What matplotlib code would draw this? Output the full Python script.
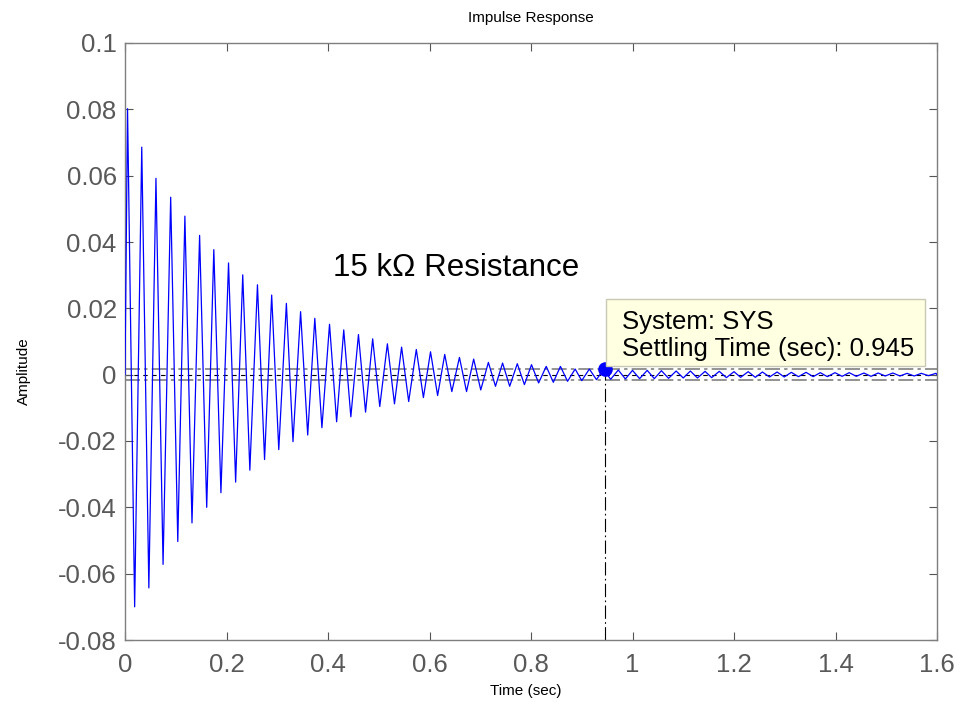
import matplotlib
matplotlib.use("Agg")
import matplotlib.pyplot as plt
from matplotlib.patches import Rectangle
import numpy as np

# ---- data ----
peak_t = [0.005, 0.033, 0.061, 0.090, 0.118, 0.147, 0.175, 0.204, 0.232, 0.261,
          0.289, 0.318, 0.346, 0.374, 0.403, 0.431, 0.460, 0.488, 0.517, 0.545,
          0.574, 0.602, 0.630, 0.659, 0.687, 0.716, 0.744, 0.773, 0.801, 0.830,
          0.858, 0.887, 0.915, 0.943, 0.972, 1.000, 1.029, 1.057, 1.086, 1.114,
          1.143, 1.171, 1.200, 1.228, 1.256, 1.285, 1.313, 1.342, 1.370, 1.399,
          1.427, 1.456, 1.484, 1.513, 1.541, 1.569, 1.598]
peak_v = [0.0802, 0.0686, 0.0592, 0.0535, 0.0478, 0.0420, 0.0377, 0.0337, 0.0301, 0.0271,
          0.0240, 0.0215, 0.0190, 0.0170, 0.0152, 0.0135, 0.0121, 0.0108, 0.0093, 0.0083,
          0.0076, 0.0069, 0.0061, 0.0052, 0.0047, 0.0037, 0.0035, 0.0033, 0.0030, 0.0025,
          0.0025, 0.0017, 0.0017, 0.0016, 0.0014, 0.0013, 0.0013, 0.0012, 0.0011, 0.0011,
          0.0010, 0.0010, 0.0009, 0.0009, 0.0008, 0.0008, 0.0007, 0.0007, 0.0006, 0.0006,
          0.0006, 0.0005, 0.0005, 0.0005, 0.0004, 0.0004, 0.0004]
trough_t = [0.019, 0.047, 0.075, 0.104, 0.132, 0.161, 0.189, 0.218, 0.246, 0.275,
            0.303, 0.331, 0.360, 0.388, 0.417, 0.445, 0.474, 0.502, 0.531, 0.559,
            0.588, 0.616, 0.644, 0.673, 0.701, 0.730, 0.758, 0.787, 0.815, 0.844,
            0.872, 0.900, 0.929, 0.957, 0.986, 1.014, 1.043, 1.071, 1.100, 1.128,
            1.156, 1.185, 1.213, 1.242, 1.270, 1.299, 1.327, 1.356, 1.384, 1.413,
            1.441, 1.470, 1.498, 1.527, 1.555, 1.583]
trough_v = [-0.0700, -0.0643, -0.0572, -0.0503, -0.0447, -0.0400, -0.0356, -0.0324, -0.0288, -0.0256,
            -0.0226, -0.0202, -0.0182, -0.0160, -0.0142, -0.0127, -0.0113, -0.0096, -0.0088, -0.0081,
            -0.0069, -0.0063, -0.0051, -0.0051, -0.0046, -0.0035, -0.0035, -0.0030, -0.0025, -0.0023,
            -0.0020, -0.0018, -0.0015, -0.0014, -0.0013, -0.0012, -0.0012, -0.0011, -0.0010, -0.0010,
            -0.0009, -0.0009, -0.0008, -0.0008, -0.0007, -0.0007, -0.0006, -0.0006, -0.0006, -0.0005,
            -0.0005, -0.0005, -0.0004, -0.0004, -0.0004, -0.0003]
start_point = (0.0, 0.0)
end_point = (1.6, 0.0)

settling_time = 0.945
settling_value = 0.0016
band = 0.0016

x_ticks = [0, 0.2, 0.4, 0.6, 0.8, 1.0, 1.2, 1.4, 1.6]
x_labels = ["0", "0.2", "0.4", "0.6", "0.8", "1", "1.2", "1.4", "1.6"]
y_ticks = [-0.08, -0.06, -0.04, -0.02, 0, 0.02, 0.04, 0.06, 0.08, 0.1]
y_labels = ["-0.08", "-0.06", "-0.04", "-0.02", "0", "0.02", "0.04", "0.06", "0.08", "0.1"]

plt.rcParams["font.family"] = ["Liberation Sans", "DejaVu Sans"]
tick_size = 18.5
small_size = 11

# ---- build curve ----
t = np.array([start_point[0]] + peak_t + trough_t + [end_point[0]])
v = np.array([start_point[1]] + peak_v + trough_v + [end_point[1]])
order = np.argsort(t)
t, v = t[order], v[order]

fig = plt.figure(figsize=(9.63, 7.15), dpi=100)
ax = fig.add_axes([125 / 963, 1 - 640 / 715, (937 - 125) / 963, (640 - 43) / 715])

gray = "#7f7f7f"
ax.axhline(band, color="#808080", lw=1.2, ls=(0, (9, 2.5, 2, 2.5)), zorder=1)
ax.axhline(-band, color="#808080", lw=1.2, ls=(0, (9, 2.5, 2, 2.5)), zorder=1)
ax.axhline(0, color="black", lw=0.8, ls=(0, (4, 4)), zorder=1)

ax.plot(t, v, color="#0000ff", lw=0.9, zorder=3)

ax.plot([settling_time, settling_time], [-0.08, settling_value], color="black",
        lw=0.8, ls=(0, (12, 3, 1.5, 3)), zorder=2)
ax.plot([settling_time], [settling_value], "o", color="#0000ff", ms=9.5, zorder=5)

ax.set_xlim(0, 1.6)
ax.set_ylim(-0.08, 0.1)
ax.set_xticks(x_ticks)
ax.set_xticklabels(x_labels, size=tick_size, color="#595959")
ax.set_yticks(y_ticks)
ax.set_yticklabels(y_labels, size=tick_size, color="#595959")
ax.tick_params(direction="in", length=6, width=0.8, color="#555555",
               top=True, right=True)
ax.tick_params(axis="x", pad=9)
ax.tick_params(axis="y", pad=6)
for s in ax.spines.values():
    s.set_color(gray)
    s.set_linewidth(1.0)

ax.set_title("Impulse Response", size=small_size, pad=15)
ax.set_xlabel("Time (sec)", size=small_size)
ax.xaxis.set_label_coords(0.494, -0.073)
ax.set_ylabel("Amplitude", size=small_size)
ax.yaxis.set_label_coords(-0.116, 0.45)

ax.text(0.41, 0.0322, "15 k\u03a9 Resistance", size=22.5, va="center", ha="left",
        color="black", zorder=6)

# data tip
box = Rectangle((0.948, 0.0027), 1.577 - 0.948, 0.0229 - 0.0027,
                facecolor="#ffffe1", edgecolor="#c8c8b4", lw=1.0, zorder=6)
ax.add_patch(box)
ax.text(0.979, 0.0160, "System: SYS", size=18.5, va="center", ha="left", zorder=7)
ax.text(0.979, 0.0076, "Settling Time (sec): 0.945", size=18.5, va="center", ha="left", zorder=7)

fig.savefig("out.png", dpi=100)
